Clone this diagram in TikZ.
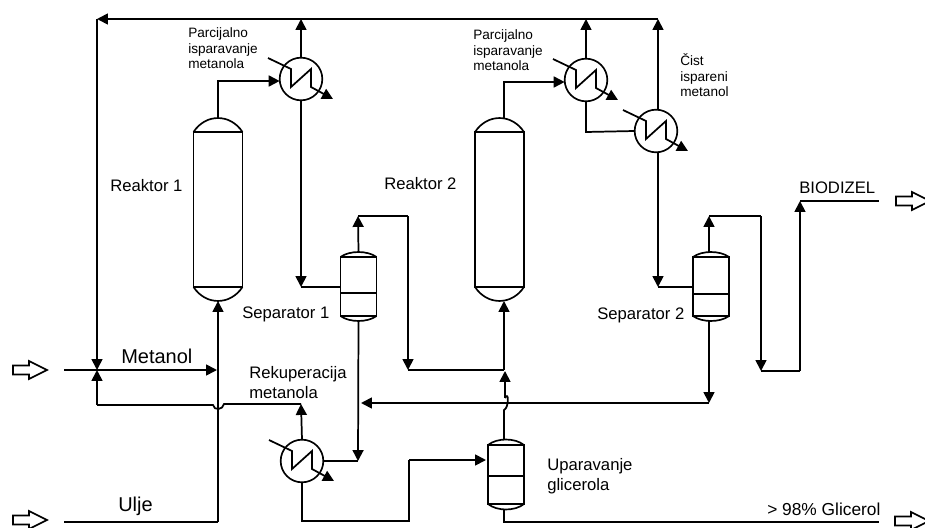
\documentclass[tikz,border=0pt]{standalone}
\usepackage{fontspec}
\setmainfont{Liberation Sans}
\usetikzlibrary{arrows.meta}
\tikzset{
  pipe/.style={line width=1.3pt,line join=miter},
  flow/.style={pipe,-{Triangle[length=8.2pt,width=8.2pt]}},
  body/.style={draw,line width=1.25pt,inner sep=0pt,outer sep=0pt},
  hxbody/.style={draw,circle,line width=1.25pt,inner sep=0pt,outer sep=0pt,minimum size=32pt},
  small/.style={font=\fontsize{10.2}{11.7}\selectfont,align=left,inner sep=0pt},
  mid/.style={font=\fontsize{12.5}{15}\selectfont,align=left,inner sep=0pt},
  big/.style={font=\fontsize{15}{18}\selectfont,inner sep=0pt},
  feed/.style={draw,line width=1.25pt,fill=white,line join=miter}
}
% name, centre x, half width, top shoulder, bottom shoulder, dome height
\newcommand{\vesselat}[6]{%
  \node[body,minimum width={#3*1.5pt},minimum height={(#5-#4)*0.75pt}] (#1) at ({#2},{(#4+#5)/2}) {};
  \coordinate (#1top) at ({#2},{#4-#6});
  \coordinate (#1bot) at ({#2},{#5+#6});
  \draw[body] (#1.north west) .. controls +({#3*0.5},{-#6*1.33}) and +({-#3*0.5},{-#6*1.33}) .. (#1.north east);
  \draw[body] (#1.south west) .. controls +({#3*0.5},{#6*1.33}) and +({-#3*0.5},{#6*1.33}) .. (#1.south east);
}
% name, centre x, centre y
\newcommand{\exchangerat}[3]{%
  \node[hxbody] (#1) at (#2,#3) {};
  \draw[flow] ([shift={(-33,-21)}]#1.center) -- ++(23,11) -- ++(0,18) -- ++(20,-18) -- ++(0,18) -- ++(22,12);
}
% left x, centre y
\newcommand{\hollowat}[2]{%
  \draw[feed] (#1,#2-4.5) -- ++(16,0) -- ++(0,-4.5) -- ++(18,9) -- ++(-18,9) -- ++(0,-4.5) -- ++(-16,0) -- cycle;
}
\begin{document}
\begin{tikzpicture}[x=0.75pt,y=-0.75pt]
\useasboundingbox (0,0) rectangle (925,528);

% vessels
\vesselat{rone}{218}{24.5}{132}{287}{14}
\vesselat{rtwo}{499.5}{24.5}{132}{287}{14}
\vesselat{sone}{358.5}{18}{257}{316}{5}
\vesselat{stwo}{711}{18}{257}{316}{5}
\vesselat{evap}{506}{18}{445}{504}{5.5}
\draw[body] (sone.west |- 0,293) -- (sone.east |- 0,293);
\draw[body] (stwo.west |- 0,294) -- (stwo.east |- 0,294);
\draw[body] (evap.west |- 0,476) -- (evap.east |- 0,476);

% exchangers
\exchangerat{hxa}{301}{79}
\exchangerat{hxb}{586}{80}
\exchangerat{hxc}{656}{131}
\exchangerat{hxd}{302}{461}

% free points of the pipework
\coordinate (tl) at (97,19);
\coordinate (tr) at (658,19);
\coordinate (mixm) at (97,370);
\coordinate (mixs) at (97,405);
\coordinate (inm) at (64,370);
\coordinate (inmend) at (217,370);
\coordinate (inu) at (64,522);
\coordinate (ucorner) at (218,522);
\coordinate (ja) at (213,405);
\coordinate (jb) at (224,404);
\coordinate (rec) at (301,404);
\coordinate (sonedown) at (301,287);
\coordinate (stwodown) at (658,287);
\coordinate (sepa) at (358,216);
\coordinate (sepb) at (408,216);
\coordinate (sepc) at (408,370);
\coordinate (septwoa) at (709,216);
\coordinate (septwob) at (761,216);
\coordinate (septwoc) at (761,371);
\coordinate (septwod) at (800,371);
\coordinate (septwoe) at (800,201);
\coordinate (bio) at (879,201);
\coordinate (gly) at (879,522);
\coordinate (retr) at (709,403);
\coordinate (retl) at (361,403);
\coordinate (sonej) at (358,461);
\coordinate (hxdb) at (302,521);
\coordinate (hxdc) at (409,521);
\coordinate (hxdd) at (409,460);
\coordinate (evin) at (486,460);
\coordinate (eva) at (504,522);
\coordinate (j2a) at (504,410);
\coordinate (j2b) at (505,398);
\coordinate (eve) at (505,371);
\coordinate (rtwoin) at (504,370);
\coordinate (hxbl) at (586,132);

% pipework
\draw[flow] (tr) -- (tl);
\draw[flow] (tl) -- (mixm);
\draw[pipe] (inm) -- (mixm);
\draw[flow] (mixm) -- (inmend);
\draw[flow] (mixs) -- (mixm);
\draw[pipe] (rec) -- (jb) .. controls +(-1,6) and +(1,6) .. (ja) -- (mixs);
\draw[flow] (hxd.north) -- (rec);
\draw[pipe] (inu) -- (ucorner);
\draw[flow] (ucorner) -- (ronebot);
\draw[flow] (ronetop) |- ([yshift=-1.5pt]hxa.west);
\draw[flow] (hxa.north) -- (hxa.north |- tl);
\draw[flow] (hxa.south) -- (sonedown);
\draw[pipe] (sonedown) -- (sone.west |- sonedown);
\draw[flow] (sonetop) -- (sepa);
\draw[pipe] (sepa) -- (sepb);
\draw[flow] (sepb) -- (sepc);
\draw[pipe] (sepc) -- (rtwoin);
\draw[flow] (sonebot) -- (sonej);
\draw[pipe] (hxd.east) -- (sonej);
\draw[flow] (retr) -- (retl);
\draw[flow] (retr |- stwobot) -- (retr);
\draw[pipe] (eva |- evapbot) -- (eva) -- (gly);
\draw[pipe] (hxd.south) -- (hxdb) -- (hxdc) -- (hxdd);
\draw[flow] (hxdd) -- (evin);
\draw[pipe] (eva |- evaptop) -- (j2a) .. controls +(5,-2) and +(4,-8) .. (j2b);
\draw[flow] (j2b) -- (eve);
\draw[flow] (rtwoin) -- (rtwoin |- rtwobot);
\draw[flow] (eva |- rtwotop) |- ([yshift=-1.5pt]hxb.west);
\draw[flow] (hxb.north) -- (hxb.north |- tl);
\draw[pipe] (hxb.south) -- (hxbl) -- (hxc.west);
\draw[flow] (hxc.north -| tr) -- (tr);
\draw[flow] (hxc.south -| tr) -- (stwodown);
\draw[pipe] (stwodown) -- (stwo.west |- stwodown);
\draw[flow] (septwoa |- stwotop) -- (septwoa);
\draw[pipe] (septwoa) -- (septwob);
\draw[flow] (septwob) -- (septwoc);
\draw[pipe] (septwoc) -- (septwod);
\draw[flow] (septwod) -- (septwoe);
\draw[pipe] (septwoe) -- (bio);

% open feed and product arrows
\hollowat{13}{370}
\hollowat{13}{520}
\hollowat{896}{201}
\hollowat{895}{521}

% labels
\node[mid,anchor=base west] (lra) at (110,191) {Reaktor 1};
\node[mid,anchor=base west] (lrb) at (384,189) {Reaktor 2};
\node[small,anchor=base west] (lpa) at (188,69) {Parcijalno\\isparavanje\\metanola};
\node[small,anchor=base west] (lpb) at (473,71) {Parcijalno\\isparavanje\\metanola};
\node[small,anchor=base west] (lc) at (680,97) {Čist\\ispareni\\metanol};
\node[mid,anchor=base west] (lb) at (799,193) {BIODIZEL};
\node[big,anchor=base west] (lm) at (121,363) {Metanol};
\node[big,anchor=base west] (lu) at (118,511) {Ulje};
\node[mid,anchor=base west] (lk) at (249,398) {Rekuperacija\\metanola};
\node[mid,anchor=base west] (lsa) at (242,318) {Separator 1};
\node[mid,anchor=base west] (lsb) at (597,319) {Separator 2};
\node[mid,anchor=base west] (lg) at (547,490) {Uparavanje\\glicerola};
\node[mid,anchor=base west,font=\fontsize{13}{15}\selectfont] (lpr) at (767,515) {> 98\% Glicerol};
\end{tikzpicture}
\end{document}
